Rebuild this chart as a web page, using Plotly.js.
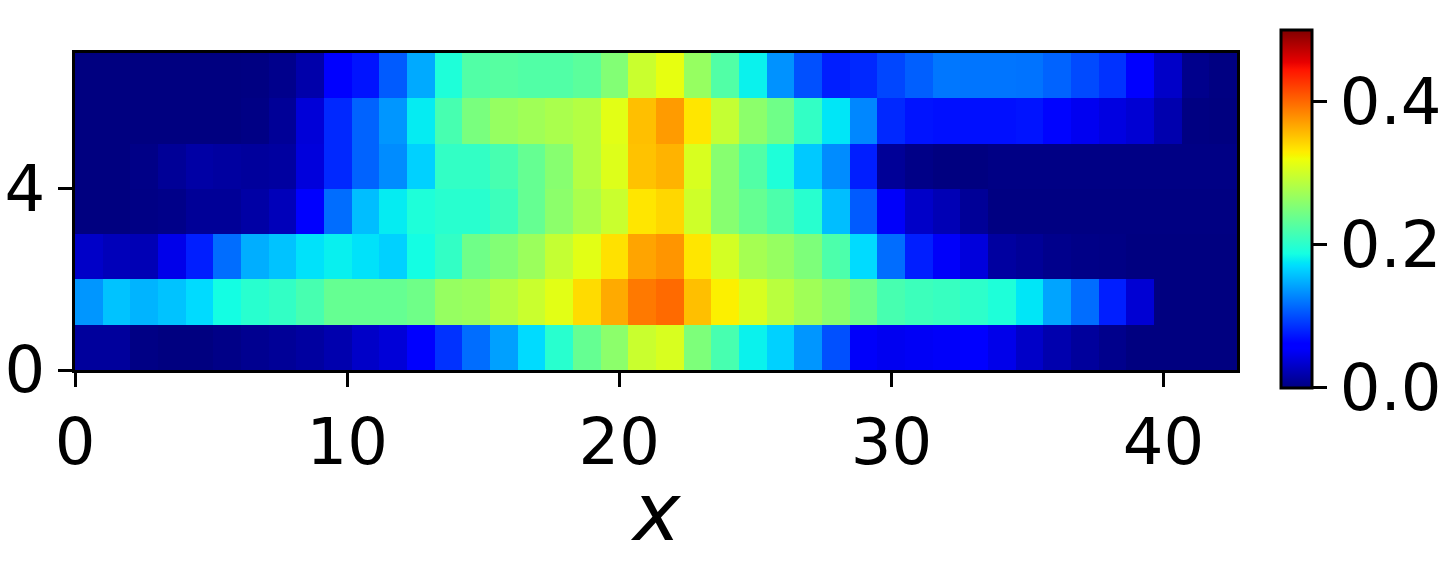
<!DOCTYPE html>
<html>
<head>
<meta charset="utf-8">
<script src="https://cdn.plot.ly/plotly-3.0.1.min.js"></script>
<style>
    html, body { margin: 0; padding: 0; background: #ffffff; }
    #chart { width: 1442px; height: 580px; }
</style>
</head>
<body>
<div id="chart"></div>
<script>
"use strict";

// one array per row of cells, bottom row (y=0) first, 42 columns each
var row0 = [0.012, 0.012, 0.002, 0.000, 0.000, 0.003, 0.007, 0.010, 0.014, 0.020, 0.031, 0.038, 0.058, 0.087,
            0.116, 0.141, 0.170, 0.199, 0.236, 0.260, 0.297, 0.306, 0.251, 0.218, 0.181, 0.165, 0.136, 0.102,
            0.053, 0.049, 0.051, 0.053, 0.056, 0.046, 0.031, 0.020, 0.012, 0.005, 0.000, 0.000, 0.000, 0.000];
var row1 = [0.136, 0.158, 0.151, 0.158, 0.170, 0.187, 0.199, 0.205, 0.218, 0.236, 0.236, 0.236, 0.242, 0.266,
            0.269, 0.284, 0.297, 0.312, 0.339, 0.365, 0.391, 0.399, 0.354, 0.328, 0.306, 0.287, 0.272, 0.258,
            0.242, 0.218, 0.211, 0.208, 0.202, 0.193, 0.175, 0.143, 0.116, 0.077, 0.036, 0.000, 0.000, 0.000];
var row2 = [0.031, 0.025, 0.023, 0.046, 0.077, 0.116, 0.148, 0.158, 0.173, 0.180, 0.173, 0.165, 0.187, 0.205,
            0.242, 0.254, 0.269, 0.294, 0.312, 0.336, 0.368, 0.376, 0.333, 0.303, 0.275, 0.266, 0.251, 0.221,
            0.170, 0.116, 0.077, 0.053, 0.040, 0.014, 0.010, 0.005, 0.003, 0.002, 0.000, 0.000, 0.000, 0.000];
var row3 = [0.000, 0.000, 0.002, 0.004, 0.010, 0.010, 0.016, 0.025, 0.058, 0.116, 0.156, 0.178, 0.193, 0.199,
            0.199, 0.211, 0.236, 0.260, 0.278, 0.297, 0.333, 0.341, 0.300, 0.257, 0.236, 0.221, 0.199, 0.156,
            0.107, 0.053, 0.031, 0.023, 0.010, 0.001, 0.001, 0.001, 0.001, 0.001, 0.001, 0.001, 0.001, 0.001];
var row4 = [0.000, 0.000, 0.003, 0.010, 0.016, 0.014, 0.012, 0.014, 0.040, 0.082, 0.111, 0.131, 0.165, 0.205,
            0.205, 0.218, 0.236, 0.257, 0.284, 0.309, 0.352, 0.360, 0.306, 0.257, 0.224, 0.193, 0.161, 0.131,
            0.077, 0.010, 0.003, 0.000, 0.000, 0.002, 0.002, 0.002, 0.002, 0.002, 0.002, 0.002, 0.002, 0.002];
var row5 = [0.000, 0.000, 0.000, 0.000, 0.000, 0.000, 0.002, 0.010, 0.038, 0.082, 0.111, 0.136, 0.178, 0.218,
            0.248, 0.266, 0.272, 0.278, 0.284, 0.312, 0.354, 0.373, 0.333, 0.294, 0.260, 0.242, 0.205, 0.175,
            0.129, 0.082, 0.072, 0.070, 0.070, 0.070, 0.072, 0.064, 0.049, 0.042, 0.036, 0.020, 0.001, 0.000];
var row6 = [0.000, 0.000, 0.000, 0.000, 0.000, 0.000, 0.001, 0.005, 0.018, 0.058, 0.072, 0.107, 0.146, 0.193,
            0.224, 0.227, 0.224, 0.224, 0.230, 0.254, 0.297, 0.315, 0.266, 0.224, 0.181, 0.134, 0.102, 0.077,
            0.082, 0.097, 0.109, 0.121, 0.120, 0.120, 0.119, 0.111, 0.099, 0.087, 0.058, 0.031, 0.005, 0.001];

var xTicks = [0, 10, 20, 30, 40];
var yTicks = [0, 4];
var cbTicks = [0, 0.2, 0.4];
var cbTickLabels = ["0.0", "0.2", "0.4"];
var xTitle = "<i>x</i>";

var xExtent = 42.7;   // right edge of the image on the x axis
var yExtent = 7;

// matplotlib "jet"
var jet = [
    [0.000, "rgb(0,0,128)"],
    [0.110, "rgb(0,0,255)"],
    [0.125, "rgb(0,0,255)"],
    [0.340, "rgb(0,219,255)"],
    [0.350, "rgb(0,230,247)"],
    [0.375, "rgb(21,255,226)"],
    [0.640, "rgb(239,255,8)"],
    [0.650, "rgb(247,245,0)"],
    [0.660, "rgb(255,236,0)"],
    [0.890, "rgb(255,19,0)"],
    [0.910, "rgb(232,0,0)"],
    [1.000, "rgb(128,0,0)"]
];

var tickFont = { family: "DejaVu Sans", size: 64, color: "#000000" };

function BuildTrace() {
    var z = [row0, row1, row2, row3, row4, row5, row6];
    var dx = xExtent / row0.length;
    return {
        type: "heatmap",
        z: z,
        x0: dx / 2,
        dx: dx,
        y0: 0.5,
        dy: 1,
        zmin: 0,
        zmax: 0.5,
        zsmooth: false,
        colorscale: jet,
        hoverinfo: "skip",
        colorbar: {
            thicknessmode: "pixels",
            thickness: 31,
            lenmode: "pixels",
            len: 358,
            x: 1.038,
            xanchor: "left",
            y: 0.508,
            yanchor: "middle",
            xpad: 0,
            ypad: 0,
            outlinewidth: 3,
            outlinecolor: "#000000",
            ticks: "outside",
            ticklen: 14,
            tickwidth: 3,
            tickcolor: "#000000",
            tickvals: cbTicks,
            ticktext: cbTickLabels,
            tickfont: tickFont
        }
    };
}

function BuildLayout() {
    return {
        width: 1442,
        height: 580,
        margin: { l: 75, r: 205, t: 53, b: 210, autoexpand: false },
        paper_bgcolor: "#ffffff",
        plot_bgcolor: "#ffffff",
        showlegend: false,
        xaxis: {
            range: [0, xExtent],
            tickvals: xTicks,
            ticks: "outside",
            ticklen: 14,
            tickwidth: 3,
            tickcolor: "#000000",
            tickfont: tickFont,
            showline: true,
            mirror: true,
            linewidth: 3,
            linecolor: "#000000",
            showgrid: false,
            zeroline: false
        },
        yaxis: {
            range: [0, yExtent],
            tickvals: yTicks,
            ticks: "outside",
            ticklen: 14,
            tickwidth: 3,
            tickcolor: "#000000",
            tickfont: tickFont,
            showline: true,
            mirror: true,
            linewidth: 3,
            linecolor: "#000000",
            showgrid: false,
            zeroline: false
        },
        // axis label placed as an annotation so it can sit closer to the tick labels
        annotations: [{
            text: xTitle,
            xref: "paper",
            yref: "paper",
            x: 0.5,
            y: -0.448,
            xanchor: "center",
            yanchor: "middle",
            showarrow: false,
            font: { family: "DejaVu Sans", size: 80, color: "#000000" }
        }]
    };
}

Plotly.newPlot("chart", [BuildTrace()], BuildLayout(), { staticPlot: true, displayModeBar: false });
</script>
</body>
</html>
